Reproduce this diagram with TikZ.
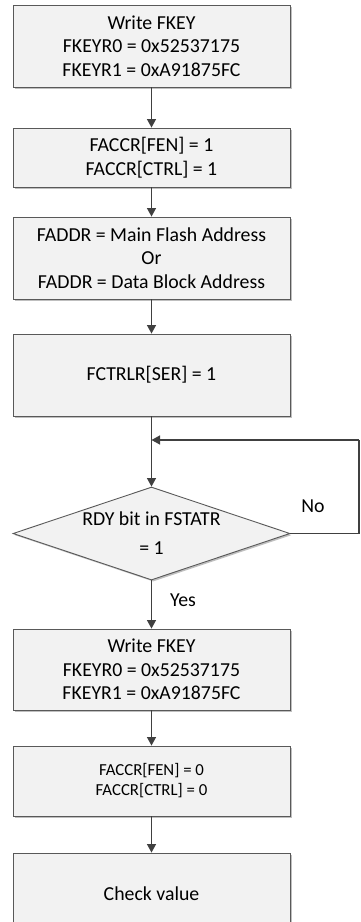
\documentclass[tikz,border=0pt]{standalone}
\usepackage{fontspec}
\setmainfont{Carlito}
\usetikzlibrary{shapes.geometric,shadows,arrows.meta}
\definecolor{boxfill}{HTML}{F2F2F2}
\definecolor{boxline}{HTML}{595959}
\definecolor{arr}{HTML}{404040}
\begin{document}
\begin{tikzpicture}[x=1pt,y=-1pt,
  box/.style={draw=boxline, line width=0.9pt, fill=boxfill, minimum width=277pt, inner sep=0pt, align=center,
    font=\fontsize{19.8}{23.5}\selectfont, drop shadow={shadow xshift=1.6pt, shadow yshift=-1.6pt, fill=black!25, opacity=1}},
  smallbox/.style={box, font=\fontsize{16.8}{20}\selectfont},
  dec/.style={draw=boxline, line width=0.9pt, fill=boxfill, shape=diamond, aspect=2.98, minimum width=277pt, minimum height=93pt, inner sep=0pt, align=center,
    font=\fontsize{19.8}{29}\selectfont, drop shadow={shadow xshift=1.6pt, shadow yshift=-1.6pt, fill=black!25, opacity=1}},
  flow/.style={draw=arr, line width=1.3pt, -{Triangle[length=8.5pt,width=9pt]}},
  lbl/.style={font=\fontsize{19.8}{23.5}\selectfont}]
\useasboundingbox (0,0) rectangle (360,922);
\node[box, minimum height=82pt] (b1) at (151.5,46) {Write FKEY\\FKEYR0 = 0x52537175\\FKEYR1 = 0xA91875FC};
\node[box, minimum height=59pt] (b2) at (151.5,157.5) {FACCR[FEN] = 1\\FACCR[CTRL] = 1};
\node[box, minimum height=82pt] (b3) at (151.5,258) {FADDR = Main Flash Address\\Or\\FADDR = Data Block Address};
\node[box, minimum height=82pt] (b4) at (151.5,375) {FCTRLR[SER] = 1};
\node[dec] (d) at (151.5,533.5) {RDY bit in FSTATR\\= 1};
\node[box, minimum height=81pt] (b5) at (151.5,669.5) {Write FKEY\\FKEYR0 = 0x52537175\\FKEYR1 = 0xA91875FC};
\node[smallbox, minimum height=70pt] (b6) at (151.5,781) {FACCR[FEN] = 0\\FACCR[CTRL] = 0};
\node[box, minimum height=82pt] (b7) at (151.5,894) {Check value};
\coordinate (j) at (151.5,440);
\coordinate (rc) at (359,440);
\node[lbl] (no) at (313,506) {No};
\node[lbl] (yes) at (183,600) {Yes};
\draw[flow] (b1) -- (b2);
\draw[flow] (b2) -- (b3);
\draw[flow] (b3) -- (b4);
\draw[flow] (b4) -- (d);
\draw[draw=arr, line width=1.3pt] (d.east) -| (rc);
\draw[flow] (rc) -- (j);
\draw[flow] (d) -- (b5);
\draw[flow] (b5) -- (b6);
\draw[flow] (b6) -- (b7);
\end{tikzpicture}
\end{document}
